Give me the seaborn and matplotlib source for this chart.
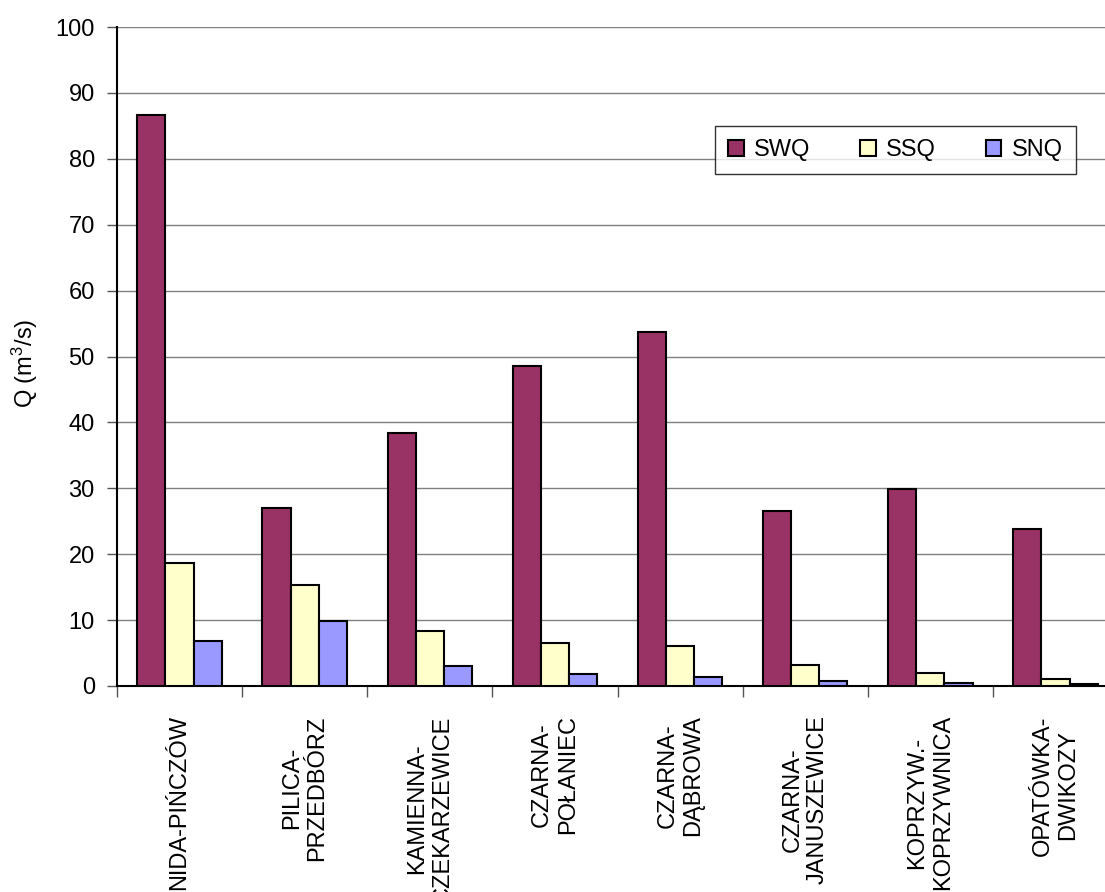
import matplotlib
matplotlib.use("Agg")
import matplotlib.pyplot as plt
import seaborn as sns
import pandas as pd

# Gauging stations (river - station)
stations = [
    "NIDA-PIŃCZÓW",
    "PILICA-\nPRZEDBÓRZ",
    "KAMIENNA-\nCZEKARZEWICE",
    "CZARNA-\nPOŁANIEC",
    "CZARNA-\nDĄBROWA",
    "CZARNA-\nJANUSZEWICE",
    "KOPRZYW.-\nKOPRZYWNICA",
    "OPATÓWKA-\nDWIKOZY",
]

# Characteristic flows, m3/s
swq = [86.7, 27.0, 38.4, 48.5, 53.7, 26.6, 29.9, 23.8]
ssq = [18.7, 15.3, 8.4, 6.6, 6.0, 3.2, 2.0, 1.1]
snq = [6.9, 9.9, 3.0, 1.8, 1.4, 0.8, 0.5, 0.25]

series = ["SWQ", "SSQ", "SNQ"]
colors = ["#993366", "#FFFFCC", "#9999FF"]

rows = []
for name, values in zip(series, [swq, ssq, snq]):
    for st, v in zip(stations, values):
        rows.append({"station": st, "series": name, "Q": v})
df = pd.DataFrame(rows)

sns.set_style("white")
plt.rcParams["font.family"] = ["Liberation Sans", "DejaVu Sans"]
plt.rcParams["mathtext.default"] = "regular"
plt.rcParams["text.color"] = "black"
plt.rcParams["axes.labelcolor"] = "black"

fig = plt.figure(figsize=(11.05, 8.92), dpi=100)
ax = fig.add_axes([117 / 1105, 206 / 892, 1001 / 1105, 659 / 892])

sns.barplot(
    data=df, x="station", y="Q", hue="series", order=stations,
    hue_order=series, palette=colors, width=0.675,
    edgecolor="black", linewidth=1.5, saturation=1, ax=ax, zorder=3,
)

ax.set_xlim(-0.5, len(stations) - 0.5)
ax.set_ylim(0, 100)
ax.set_yticks(range(0, 101, 10))
ax.yaxis.grid(True, color="#808080", linewidth=1, zorder=0)
ax.xaxis.grid(False)
ax.set_axisbelow(True)

for side in ["top", "right"]:
    ax.spines[side].set_visible(False)
for side in ["left", "bottom"]:
    ax.spines[side].set_color("black")
    ax.spines[side].set_linewidth(1.5)

# Category separators as minor ticks, labels centred without ticks
ax.set_xticks([i - 0.5 for i in range(len(stations) + 1)], minor=True)
ax.tick_params(axis="x", which="minor", length=8, width=1, color="#555555",
               direction="out", bottom=True)
ax.tick_params(axis="x", which="major", length=0, pad=21, labelcolor="black")
ax.tick_params(axis="y", which="major", length=7, width=1, color="#555555",
               direction="out", left=True, labelsize=17, pad=9,
               labelcolor="black")
ax.set_xticks(range(len(stations)))
ax.set_xticklabels(stations, rotation=90, ha="center", va="top",
                   multialignment="center", fontsize=17, linespacing=1.2)

ax.set_xlabel("")
ax.set_ylabel("Q (m$^{3}$/s)", fontsize=17)
ax.yaxis.set_label_coords(-77 / 1001, 0.49)

handles, labels = ax.get_legend_handles_labels()
ax.get_legend().remove()
leg = fig.legend(
    handles, labels, loc="center", bbox_to_anchor=(0.8104, 0.8313),
    ncol=3, fontsize=17, frameon=True, fancybox=False,
    edgecolor="black", handlelength=0.65, handleheight=0.65,
    handletextpad=0.45, columnspacing=2.1, borderpad=0.55,
)
leg.get_frame().set_linewidth(1.0)

fig.savefig("out.png", dpi=100)
